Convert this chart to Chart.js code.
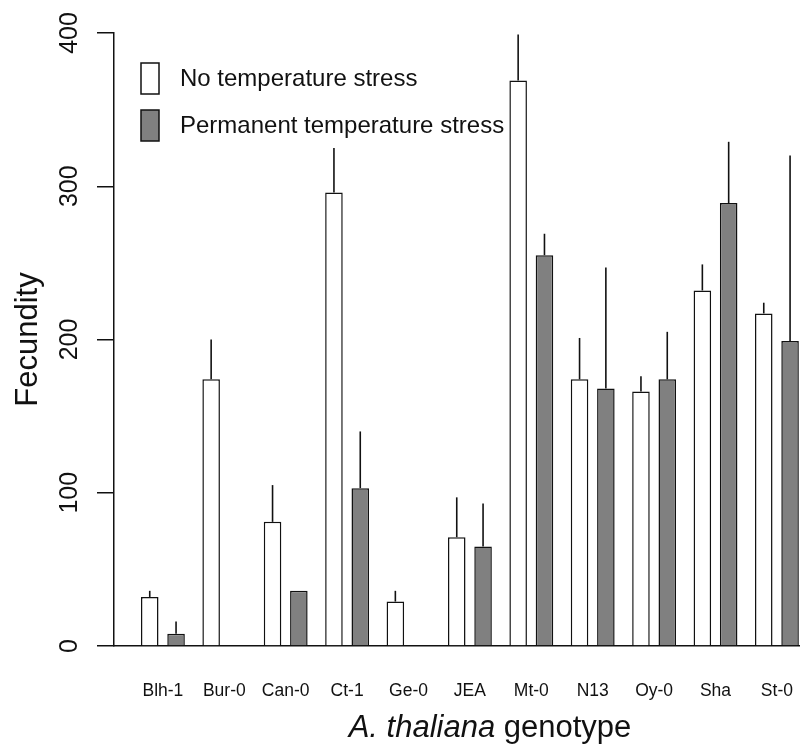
<!DOCTYPE html>
<html>
<head>
<meta charset="utf-8">
<title>Fecundity by genotype</title>
<script src="https://cdn.jsdelivr.net/npm/chart.js@4.4.0/dist/chart.umd.min.js"></script>
<style>
  html, body { margin: 0; padding: 0; background: #fff; overflow: hidden; }
  #wrap { width: 800px; height: 745px; }
</style>
</head>
<body>
<div id="wrap"><canvas id="chart-canvas" width="800" height="745"></canvas></div>
<script>
// values
const genotypes = ["Blh-1", "Bur-0", "Can-0", "Ct-1", "Ge-0", "JEA", "Mt-0", "N13", "Oy-0", "Sha", "St-0"];
const noStress = [32, 174, 81, 296, 29, 71, 369, 174, 166, 232, 217];
const noStressTop = [36, 200, 105, 325, 36, 97, 399, 201, 176, 249, 224];   // top of error bar
const permStress = [8, null, 36, 103, null, 65, 255, 168, 174, 289, 199];
const permStressTop = [16, null, null, 140, null, 93, 269, 247, 205, 329, 320];
const yTicks = [0, 100, 200, 300, 400];

const FONT = "'Liberation Sans', Arial, sans-serif";
const ink = "#111";

// x positions are group indices on a linear scale
function toPoints(vals){
    return vals.map((v, i) => ({x: i, y: v}));
}

// error bars, legend, rotated tick labels and axis titles
const extras = {
    id: "extras",
    afterDatasetsDraw(chart){
        const ctx = chart.ctx;
        const y = chart.scales.y;
        const tops = [noStressTop, permStressTop];
        ctx.save();
        ctx.strokeStyle = ink;
        ctx.lineWidth = 1.6;
        tops.forEach((arr, d) => {
            const meta = chart.getDatasetMeta(d);
            arr.forEach((t, i) => {
                const bar = meta.data[i];
                if (t == null || !bar) return;
                ctx.beginPath();
                ctx.moveTo(bar.x, bar.y);
                ctx.lineTo(bar.x, y.getPixelForValue(t));
                ctx.stroke();
            });
        });
        ctx.restore();
    },
    afterDraw(chart){
        const ctx = chart.ctx;
        const y = chart.scales.y;
        ctx.save();
        ctx.fillStyle = ink;

        // y tick labels, rotated like R's default
        ctx.font = "25px " + FONT;
        ctx.textAlign = "center";
        ctx.textBaseline = "alphabetic";
        y.ticks.forEach(t => {
            ctx.save();
            ctx.translate(77, y.getPixelForValue(t.value));
            ctx.rotate(-Math.PI / 2);
            ctx.fillText(String(t.value), 0, 0);
            ctx.restore();
        });

        // y title
        ctx.save();
        ctx.font = "31px " + FONT;
        ctx.translate(37, (chart.chartArea.top + chart.chartArea.bottom) / 2);
        ctx.rotate(-Math.PI / 2);
        ctx.fillText("Fecundity", 0, 0);
        ctx.restore();

        // x title, genus part in italics
        const a = "A. thaliana", b = " genotype";
        ctx.font = "italic 31px " + FONT;
        const wa = ctx.measureText(a).width;
        ctx.font = "31px " + FONT;
        const wb = ctx.measureText(b).width;
        let x0 = 490 - (wa + wb) / 2;
        ctx.textAlign = "left";
        ctx.font = "italic 31px " + FONT;
        ctx.fillText(a, x0, 737);
        ctx.font = "31px " + FONT;
        ctx.fillText(b, x0 + wa, 737);

        // legend
        ctx.font = "24px " + FONT;
        ctx.textBaseline = "middle";
        chart.data.datasets.forEach((ds, i) => {
            const top = 63 + i * 47;
            ctx.fillStyle = ds.backgroundColor;
            ctx.fillRect(141, top, 18, 31);
            ctx.strokeStyle = ink;
            ctx.lineWidth = 1.5;
            ctx.strokeRect(141, top, 18, 31);
            ctx.fillStyle = ink;
            ctx.fillText(ds.label, 180, top + 16);
        });
        ctx.restore();
    }
};

const chartJSChart = new Chart("chart-canvas", {
    type: "bar",
    data: {
        datasets: [
            {
                label: "No temperature stress",
                data: toPoints(noStress),
                backgroundColor: "#ffffff",
                borderColor: ink,
                borderWidth: 1.5,
                borderSkipped: "bottom"
            },
            {
                label: "Permanent temperature stress",
                data: toPoints(permStress),
                backgroundColor: "#808080",
                borderColor: ink,
                borderWidth: 1.5,
                borderSkipped: "bottom"
            }
        ]
    },
    options: {
        responsive: false,
        animation: false,
        categoryPercentage: 0.857,
        barPercentage: 0.667,
        layout: { padding: { top: 33, left: 0, right: 0, bottom: 0 } },
        plugins: {
            legend: { display: false },
            tooltip: { enabled: false }
        },
        scales: {
            x: {
                type: "linear",
                offset: false,
                bounds: "data",
                min: -0.7964,
                max: 10.376,
                afterBuildTicks: (axis) => {
                    axis.ticks = genotypes.map((g, i) => ({ value: i }));
                },
                afterFit: (s) => { s.height = 99; },
                ticks: {
                    autoSkip: false,
                    maxRotation: 0,
                    minRotation: 0,
                    padding: 3,
                    color: ink,
                    font: { family: FONT, size: 17.5 },
                    callback: (v, i) => genotypes[i]
                },
                // ticks not drawn, tickLength only pushes the labels down
                grid: { display: false, drawTicks: true, tickLength: 32, offset: false },
                border: { display: true, color: ink, width: 1.5 }
            },
            y: {
                min: 0,
                max: 400,
                afterBuildTicks: (axis) => {
                    axis.ticks = yTicks.map(v => ({ value: v }));
                },
                afterFit: (s) => { s.width = 114; },
                ticks: { display: false },
                grid: {
                    display: true,
                    drawOnChartArea: false,
                    drawTicks: true,
                    tickLength: 17,
                    tickColor: ink,
                    lineWidth: 1.5
                },
                border: { display: true, color: ink, width: 1.5 }
            }
        }
    },
    plugins: [extras]
});
</script>
</body>
</html>
